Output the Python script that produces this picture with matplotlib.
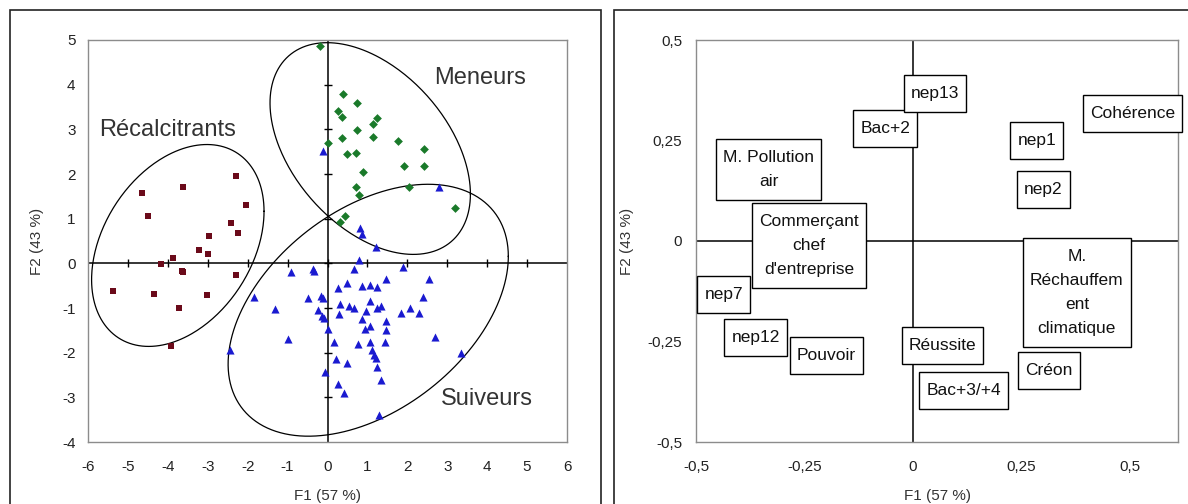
import numpy as np
import matplotlib
matplotlib.use("Agg")
import matplotlib.pyplot as plt
from matplotlib.patches import Rectangle

plt.rcParams['font.family'] = ['Liberation Sans', 'DejaVu Sans']
plt.rcParams['axes.unicode_minus'] = False

# --- data: individuals on F1/F2 (left plot) ---
recal_x = [-2.29, -4.65, -3.62, -2.04, -4.50, -2.41, -2.24, -2.96, -3.22, -2.99, -3.87,
           -4.17, -3.65, -3.61, -2.29, -5.37, -4.35, -3.02, -3.73, -3.92]
recal_y = [1.95, 1.57, 1.70, 1.30, 1.05, 0.90, 0.67, 0.62, 0.29, 0.22, 0.13,
           -0.02, -0.18, -0.20, -0.27, -0.63, -0.69, -0.72, -1.00, -1.84]

meneurs_x = [-0.19, 0.39, 0.74, 0.26, 0.36, 1.24, 1.14, 0.74, 0.36, 1.14, 1.77, 2.42,
             0.01, 0.49, 0.71, 1.92, 2.42, 0.89, 0.71, 0.79, 2.04, 3.20, 0.44, 0.31]
meneurs_y = [4.86, 3.80, 3.58, 3.42, 3.27, 3.25, 3.11, 2.98, 2.80, 2.82, 2.73, 2.55,
             2.69, 2.44, 2.48, 2.17, 2.19, 2.04, 1.70, 1.54, 1.70, 1.23, 1.05, 0.92]

suiv_x = [-0.11, 2.79, 0.81, 0.86, 1.22, 0.79, 0.66, 1.89, -0.91, -0.36, -0.34, 1.47,
          2.54, 0.48, 0.26, 0.86, 1.06, 1.24, -0.49, -0.16, -0.11, 2.39, 1.06, 0.31,
          0.54, 0.66, 1.34, 1.24, 2.07, 1.84, 2.30, -0.24, 0.96, 0.29, -0.14, -0.09,
          0.86, 1.47, 0.94, 1.06, 0.01, 1.47, 2.69, -0.99, 0.16, 0.76, 1.06, 1.44,
          1.11, 1.17, 1.22, 3.34, 0.21, 0.49, 1.24, -0.06, 1.34, 0.26, 0.41, 1.29,
          -1.84, -1.31, -2.44]
suiv_y = [2.51, 1.72, 0.78, 0.65, 0.36, 0.07, -0.13, -0.09, -0.20, -0.13, -0.18, -0.36,
          -0.36, -0.43, -0.56, -0.51, -0.49, -0.54, -0.78, -0.74, -0.78, -0.76, -0.85, -0.90,
          -0.96, -0.99, -0.96, -1.01, -0.99, -1.12, -1.12, -1.05, -1.07, -1.14, -1.19, -1.23,
          -1.25, -1.30, -1.46, -1.41, -1.46, -1.50, -1.66, -1.70, -1.77, -1.81, -1.77, -1.77,
          -1.95, -2.06, -2.13, -2.01, -2.15, -2.24, -2.33, -2.44, -2.62, -2.71, -2.91, -3.40,
          -0.76, -1.03, -1.93]

# group ellipses: centre, half x-extent, half y-extent, x offset of top point
group_names = ["Récalcitrants", "Meneurs", "Suiveurs"]
group_ell = [(-3.75, 0.40, 2.16, 2.26, 0.73),
             (1.07, 2.57, 2.51, 2.37, -1.08),
             (1.02, -1.05, 3.51, 2.82, 1.50)]
group_lab_pos = [(-4.0, 2.98), (3.82, 4.14), (4.0, -3.04)]

# --- data: variables on F1/F2 (right plot) ---
var_labels = ["M. Pollution\nair", "Commerçant\nchef\nd'entreprise", "Bac+2", "nep13",
              "Cohérence", "nep1", "nep2", "M.\nRéchauffem\nent\nclimatique",
              "Réussite", "Bac+3/+4", "Créon", "nep7", "nep12", "Pouvoir"]
var_x = [-0.333, -0.240, -0.064, 0.050, 0.505, 0.285, 0.300, 0.377,
         0.068, 0.116, 0.313, -0.436, -0.363, -0.200]
var_y = [0.177, -0.012, 0.279, 0.368, 0.316, 0.251, 0.127, -0.129,
         -0.259, -0.371, -0.321, -0.134, -0.239, -0.284]

W, H = 1188, 504
fig = plt.figure(figsize=(W / 100, H / 100), dpi=100)
fig.patch.set_facecolor("white")

# outer panel frames
fig.patches.append(Rectangle((10 / W, -0.05), 591 / W, 1.05 - 10 / H, transform=fig.transFigure,
                             fill=False, lw=1.2, ec="#222222"))
fig.patches.append(Rectangle((614 / W, -0.05), 600 / W, 1.05 - 10 / H, transform=fig.transFigure,
                             fill=False, lw=1.2, ec="#222222"))


def ellipse_curve(cx, cy, ex, ey, top_dx):
    t = np.linspace(0, 2 * np.pi, 300)
    c = top_dx * ey
    k = c / ex
    return cx + ex * np.cos(t), cy + k * np.cos(t) + np.sqrt(ey ** 2 - k ** 2) * np.sin(t)


# --- left plot ---
ax1 = fig.add_axes([88 / W, (H - 442) / H, 479 / W, 402 / H])
ax1.set_xlim(-6, 6)
ax1.set_ylim(-4, 5)
ax1.axhline(0, color="black", lw=1.1, zorder=2)
ax1.axvline(0, color="black", lw=1.1, zorder=2)
xt = np.arange(-6, 7)
yt = np.arange(-4, 6)
ax1.plot(xt[1:-1], np.zeros(len(xt) - 2), ls="none", marker="|", ms=6, color="black", mew=1)
ax1.plot(np.zeros(len(yt) - 2), yt[1:-1], ls="none", marker="_", ms=6, color="black", mew=1)

for e in group_ell:
    ex_, ey_ = ellipse_curve(*e)
    ax1.plot(ex_, ey_, color="black", lw=0.9, zorder=3)

ax1.scatter(recal_x, recal_y, marker="s", s=22, color="#6b0a1a", zorder=4, linewidths=0)
ax1.scatter(meneurs_x, meneurs_y, marker="D", s=20, color="#1a7a2a", zorder=4, linewidths=0)
ax1.scatter(suiv_x, suiv_y, marker="^", s=34, color="#1a1ad0", zorder=4, linewidths=0)

for name, (lx, ly) in zip(group_names, group_lab_pos):
    ax1.text(lx, ly, name, fontsize=17, color="#333333", ha="center", va="center")

ax1.set_xticks(xt)
ax1.set_yticks(yt)
ax1.tick_params(length=0, labelsize=11, colors="#222222")
ax1.tick_params(axis="x", pad=13)
ax1.tick_params(axis="y", pad=9)
for s in ax1.spines.values():
    s.set_color("#8c8c8c")
    s.set_linewidth(1.0)
ax1.text(0.5, -0.135, "F1 (57 %)", transform=ax1.transAxes, ha="center", va="center",
         fontsize=11, color="#333333")
ax1.text(-0.106, 0.5, "F2 (43 %)", transform=ax1.transAxes, ha="center", va="center",
         rotation=90, fontsize=11, color="#333333")

# --- right plot ---
ax2 = fig.add_axes([696 / W, (H - 442) / H, 482 / W, 402 / H])
ax2.set_xlim(-0.5, 0.61)
ax2.set_ylim(-0.5, 0.5)
ax2.axhline(0, color="black", lw=1.1, zorder=2)
ax2.axvline(0, color="black", lw=1.1, zorder=2)
var_texts = []
for lab, x, y in zip(var_labels, var_x, var_y):
    t = ax2.text(x, y, lab, fontsize=12.5, ha="center", va="center", color="#111111",
                 linespacing=1.75, multialignment="center", zorder=6)
    var_texts.append(t)
ticks = [-0.5, -0.25, 0, 0.25, 0.5]
ax2.set_xticks(ticks)
ax2.set_yticks(ticks)
ax2.set_xticklabels(["-0,5", "-0,25", "0", "0,25", "0,5"])
ax2.set_yticklabels(["-0,5", "-0,25", "0", "0,25", "0,5"])
ax2.tick_params(length=0, labelsize=11, colors="#222222")
ax2.tick_params(axis="x", pad=13)
ax2.tick_params(axis="y", pad=10)
for s in ax2.spines.values():
    s.set_color("#8c8c8c")
    s.set_linewidth(1.0)
ax2.text(0.5, -0.135, "F1 (57 %)", transform=ax2.transAxes, ha="center", va="center",
         fontsize=11, color="#333333")
ax2.text(-0.143, 0.5, "F2 (43 %)", transform=ax2.transAxes, ha="center", va="center",
         rotation=90, fontsize=11, color="#333333")

# label boxes: drawn around the rendered text, taller than matplotlib's uniform pad
fig.canvas.draw()
renderer = fig.canvas.get_renderer()
padx, pady = 7, 11
for t in var_texts:
    bb = t.get_window_extent(renderer)
    fig.patches.append(Rectangle((bb.x0 - padx, bb.y0 - pady), bb.width + 2 * padx,
                                 bb.height + 2 * pady, transform=None,
                                 fc="white", ec="black", lw=1.0, zorder=5))
    t.remove()
    fig.text(bb.x0 + bb.width / 2, bb.y0 + bb.height / 2, t.get_text(), transform=None,
             fontsize=12.5, ha="center", va="center", color="#111111",
             linespacing=1.75, multialignment="center", zorder=6)

fig.savefig("out.png", dpi=100)
